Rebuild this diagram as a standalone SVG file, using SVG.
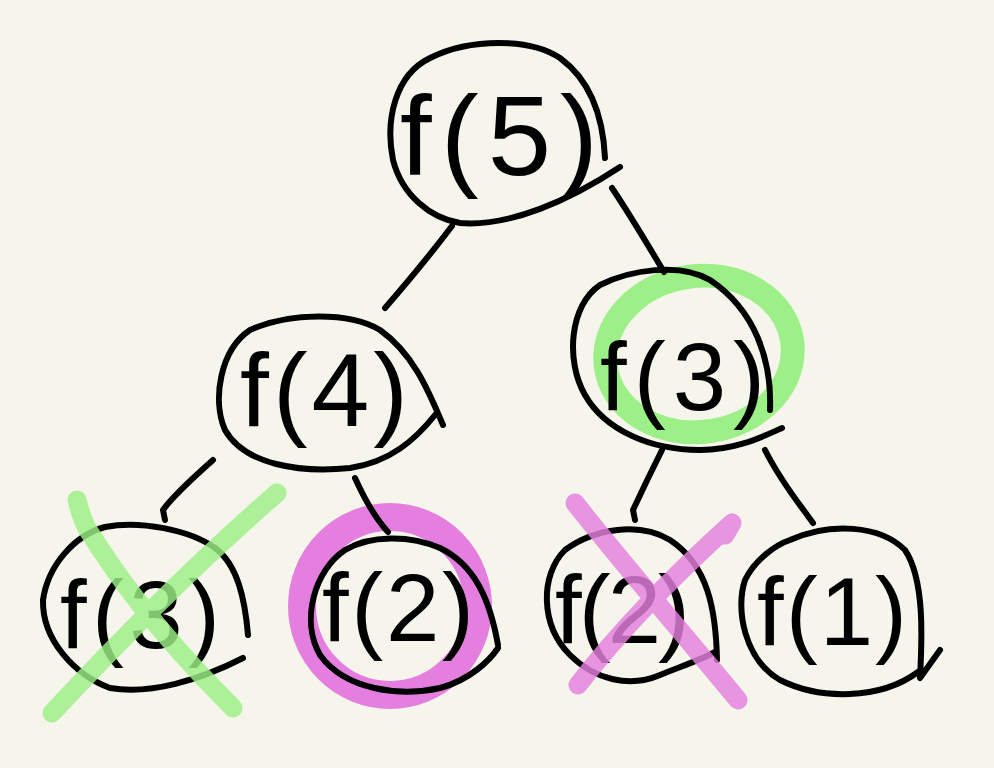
<svg xmlns="http://www.w3.org/2000/svg" width="994" height="768" viewBox="0 0 994 768">
<style>
.ink{fill:none;stroke:#000;stroke-width:6;stroke-linecap:round;stroke-linejoin:round}
.lbl{font-family:"Liberation Sans","DejaVu Sans",sans-serif;fill:#000;font-weight:normal}
.green{fill:none;stroke:#9DEF87;stroke-linecap:round;stroke-linejoin:round}
.pink{fill:none;stroke:#E47FDF;stroke-linecap:round;stroke-linejoin:round}
</style>
<rect width="994" height="768" fill="#F6F5EB"/>
<g id="highlights">
<ellipse class="green" cx="699" cy="354" rx="94" ry="78" stroke-width="24" transform="rotate(-8 699 354)"/>
<ellipse class="pink" cx="390" cy="606" rx="88" ry="89" stroke-width="28"/>
</g>
<g id="connectors">
<path class="ink" d="M 452,226 C 430,255 405,285 385,308"/>
<path class="ink" d="M 612,188 C 630,215 648,245 664,272"/>
<path class="ink" d="M 213,460 C 195,476 172,497 163,510 L 165,520"/>
<path class="ink" d="M 355,478 C 365,500 375,518 388,532"/>
<path class="ink" d="M 662,450 C 652,470 640,495 633,510 L 635,520"/>
<path class="ink" d="M 765,450 C 775,470 790,492 805,512 L 813,523"/>
</g>
<g id="node-f5">
<path class="ink" d="M 605,158 C 603,115 590,80 560,58 C 530,38 470,38 430,58 C 395,75 385,120 393,160 C 402,195 430,218 460,223 C 510,227 570,200 620,167"/>
<text class="lbl" x="400" y="175" font-size="114" textLength="198" lengthAdjust="spacing">f(5)</text>
</g>
<g id="node-f4">
<path class="ink" d="M 443,425 C 430,395 415,355 380,330 C 350,312 290,312 250,330 C 220,350 212,400 225,430 C 245,465 300,473 350,468 C 390,462 415,440 435,415"/>
<text class="lbl" x="240" y="426" font-size="104" textLength="168" lengthAdjust="spacing">f(4)</text>
</g>
<g id="node-f3-right">
<path class="ink" d="M 770,410 C 772,360 755,310 710,280 C 680,262 630,270 600,285 C 570,305 565,360 585,395 C 605,430 650,450 700,450 C 735,450 760,438 782,428"/>
<text class="lbl" x="600" y="410" font-size="96" textLength="165" lengthAdjust="spacing">f(3)</text>
</g>
<g id="node-f3-left">
<path class="ink" d="M 248,635 C 245,600 238,565 215,548 C 190,530 140,520 105,527 C 75,535 48,565 43,600 C 42,640 75,675 110,688 C 150,695 200,680 243,658"/>
<text class="lbl" x="60" y="648" font-size="96" textLength="160" lengthAdjust="spacing">f(3)</text>
</g>
<g id="node-f2-mid">
<path class="ink" d="M 498,645 C 490,600 475,565 440,548 C 410,535 370,535 345,550 C 315,570 300,620 320,655 C 345,690 400,697 440,688 C 470,680 490,660 498,648"/>
<text class="lbl" x="322" y="641" font-size="96" textLength="152" lengthAdjust="spacing">f(2)</text>
</g>
<g id="node-f2-right">
<path class="ink" d="M 717,660 C 716,610 708,565 670,540 C 640,522 595,528 565,550 C 540,575 540,625 570,655 C 595,680 630,688 660,675 C 685,665 700,660 715,652"/>
<text class="lbl" x="555" y="643" font-size="96" textLength="135" lengthAdjust="spacing">f(2)</text>
</g>
<g id="node-f1">
<path class="ink" d="M 940,650 L 920,678 C 922,640 925,580 905,550 C 880,525 830,522 790,540 C 775,545 755,560 745,580 C 735,610 745,660 780,680 C 820,700 880,700 918,672"/>
<text class="lbl" x="757" y="645" font-size="96" textLength="150" lengthAdjust="spacing">f(1)</text>
</g>
<g id="strikes" opacity="0.82">
<path class="green" stroke-width="19" d="M 77,500 C 80,512 83,522 88,530 C 110,565 150,625 233,708"/>
<path class="green" stroke-width="19" d="M 277,493 C 200,560 120,640 52,713"/>
<path class="pink" stroke-width="19" d="M 575,503 C 620,560 680,630 738,700"/>
<path class="pink" stroke-width="19" d="M 725,535 L 732,523 C 680,570 620,630 578,685"/>
</g>
</svg>
